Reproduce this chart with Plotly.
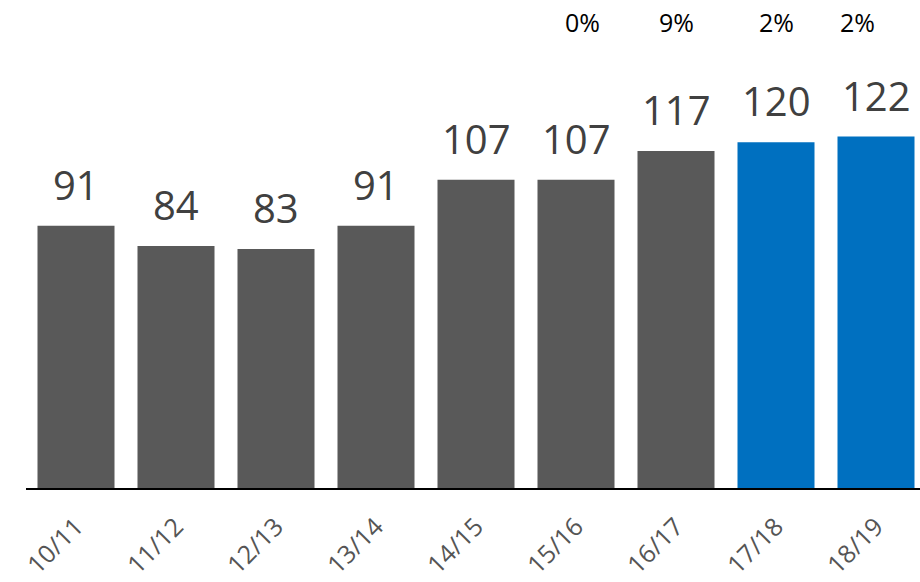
import plotly.graph_objects as go

years = ["10/11", "11/12", "12/13", "13/14", "14/15", "15/16", "16/17", "17/18", "18/19"]
values = [91, 84, 83, 91, 107, 107, 117, 120, 122]
growth = ["", "", "", "", "", "0%", "9%", "2%", "2%"]
is_forecast = [False, False, False, False, False, False, False, True, True]

GREY = "#595959"
BLUE = "#0070C0"
FONT = "Open Sans"

bar_colors = [BLUE if f else GREY for f in is_forecast]

fig = go.Figure(
    go.Bar(
        x=list(range(len(years))),
        y=values,
        marker=dict(color=bar_colors, line=dict(width=0)),
        width=0.77,
        hoverinfo="x+y",
    )
)

annotations = []
for i, v in enumerate(values):
    annotations.append(
        dict(
            x=i, y=v, xref="x", yref="y",
            text=str(v), showarrow=False,
            yanchor="bottom", yshift=12,
            font=dict(family=FONT, size=40, color="#404040"),
        )
    )

# growth labels sit in a row along the top; the last one is nudged left
growth_xshift = [0, 0, 0, 0, 0, 6, 0, 0, -19]
for i, g in enumerate(growth):
    if not g:
        continue
    annotations.append(
        dict(
            x=i, y=0.955, xref="x", yref="paper",
            text=g, showarrow=False,
            yanchor="middle", xshift=growth_xshift[i],
            font=dict(family=FONT, size=25, color="#000000"),
        )
    )

fig.update_layout(
    width=920,
    height=582,
    margin=dict(l=26, r=0, t=0, b=94),
    paper_bgcolor="white",
    plot_bgcolor="white",
    showlegend=False,
    annotations=annotations,
    xaxis=dict(
        range=[-0.5, 8.44],
        tickmode="array",
        tickvals=list(range(len(years))),
        ticktext=years,
        tickangle=-45,
        tickfont=dict(family=FONT, size=25, color="#555555"),
        showline=True,
        linecolor="black",
        linewidth=2,
        showgrid=False,
        zeroline=False,
        ticks="",
        ticklabelstandoff=12,
        automargin=False,
    ),
    yaxis=dict(
        range=[0, 169.4],
        visible=False,
        showgrid=False,
        zeroline=False,
        automargin=False,
    ),
)

fig.write_html("out.html")
